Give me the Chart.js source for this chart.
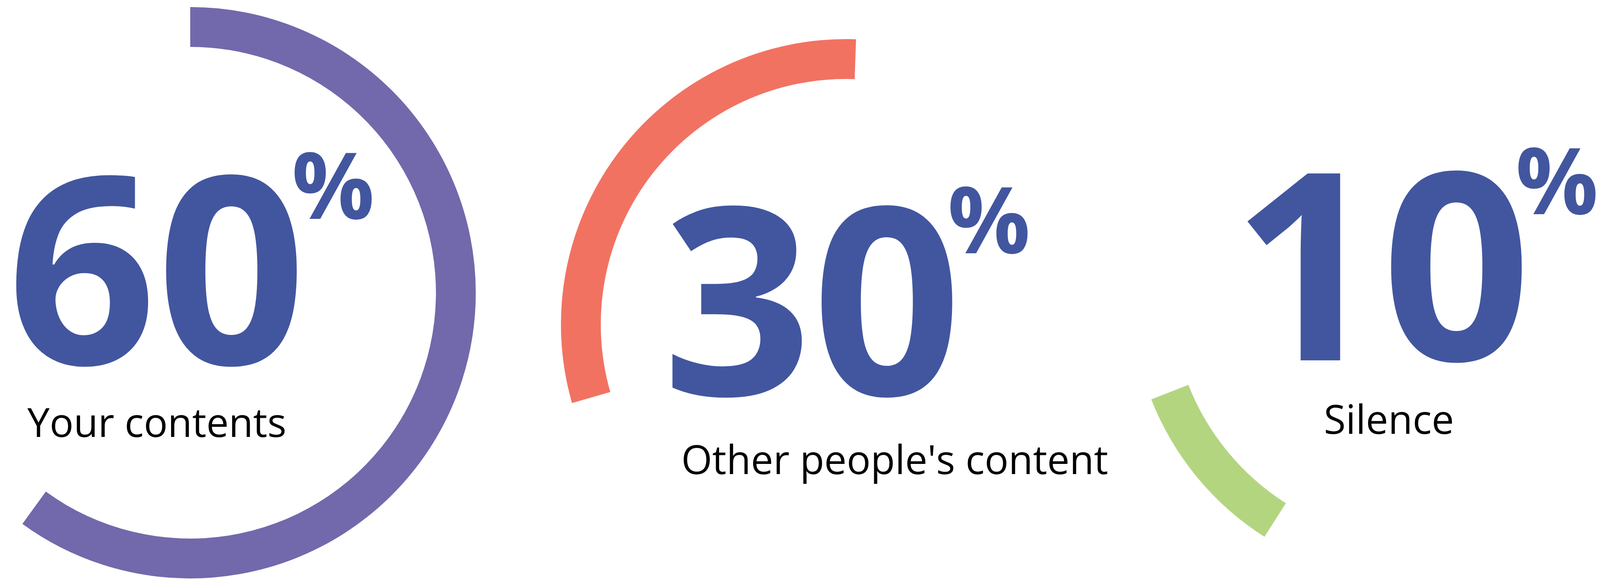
<!DOCTYPE html>
<html>
<head>
<meta charset="utf-8">
<script src="https://cdn.jsdelivr.net/npm/chart.js@4"></script>
<style>
  body { margin: 0; padding: 0; background: #fff; width: 4107px; height: 1484px; }
  .ring { position: absolute; }
  #labels { position: absolute; left: 0; top: 0; }
</style>
</head>
<body>
<svg id="labels" width="4107" height="1484" xmlns="http://www.w3.org/2000/svg"></svg>
<script>
// data
const categories = ['Your contents', "Other people's content", 'Silence'];
const shares = [60, 30, 10];
const arcColors = ['#7169AB', '#F27262', '#B3D580'];
const startAngles = [0, -106, 212.5];

// layout (px)
const centers = [[487, 749], [2166, 830], [3633, 752]];
const radii = [731, 730, 737];
const thickness = 102;
const numColor = '#42569F';
// number: left, baseline ; percent sign: left, baseline ; label: left, baseline
const numPos = [[18, 932], [1696, 1011], [3154, 922]];
const pctPos = [[747, 560], [2426, 648], [3880, 548]];
const labelPos = [[70, 1118], [1744, 1213], [3389, 1110]];

const svg = document.getElementById('labels');
function addText(str, x, y, size, weight, color) {
    const t = document.createElementNS('http://www.w3.org/2000/svg', 'text');
    t.setAttribute('x', x);
    t.setAttribute('y', y);
    t.setAttribute('font-family', 'Open Sans');
    t.setAttribute('font-size', size);
    t.setAttribute('font-weight', weight);
    t.setAttribute('fill', color);
    t.textContent = str;
    svg.appendChild(t);
}

categories.forEach((cat, i) => {
    const r = radii[i];
    const box = document.createElement('div');
    box.className = 'ring';
    box.style.left = (centers[i][0] - r) + 'px';
    box.style.top = (centers[i][1] - r) + 'px';
    box.style.width = (2 * r) + 'px';
    box.style.height = (2 * r) + 'px';
    const cv = document.createElement('canvas');
    box.appendChild(cv);
    document.body.insertBefore(box, svg);

    new Chart(cv.getContext('2d'), {
        type: 'doughnut',
        data: {
            labels: [cat, ''],
            datasets: [{
                data: [shares[i], 100 - shares[i]],
                backgroundColor: [arcColors[i], 'rgba(0,0,0,0)'],
                borderWidth: 0,
                hoverOffset: 0
            }]
        },
        options: {
            responsive: true,
            maintainAspectRatio: false,
            animation: false,
            rotation: startAngles[i],
            cutout: r - thickness,
            layout: { padding: 0 },
            plugins: { legend: { display: false }, tooltip: { enabled: false } }
        }
    });

    addText(String(shares[i]), numPos[i][0], numPos[i][1], 670, 700, numColor);
    addText('%', pctPos[i][0], pctPos[i][1], 235, 700, numColor);
    addText(cat, labelPos[i][0], labelPos[i][1], 102, 400, '#000');
});
</script>
</body>
</html>
